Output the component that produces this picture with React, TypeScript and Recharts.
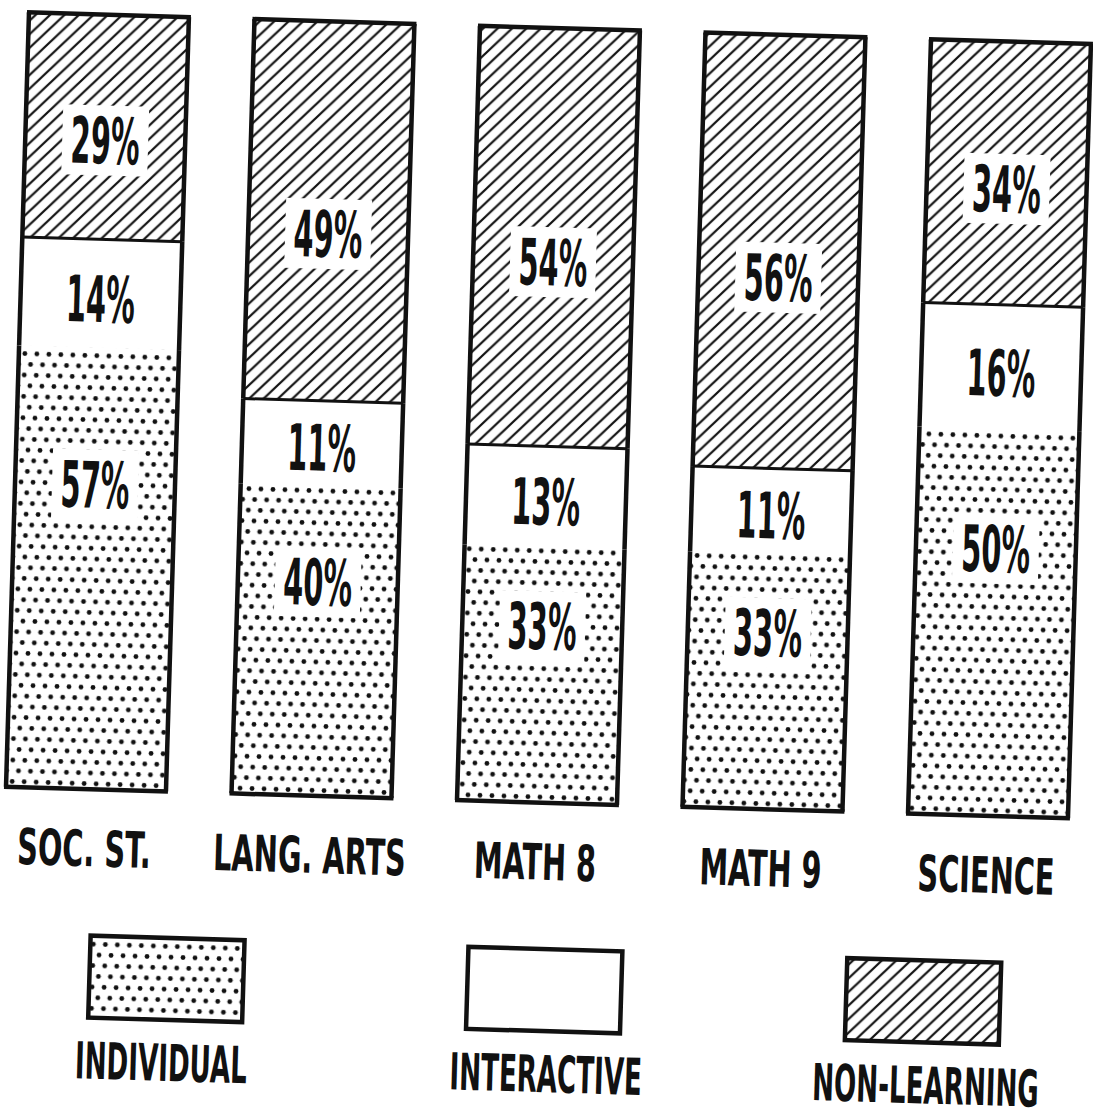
import React from "react";
import { Bar, BarChart, LabelList, Legend, XAxis, YAxis } from "recharts";

const categories = ["SOC. ST.", "LANG. ARTS", "MATH 8", "MATH 9", "SCIENCE"];
const individual = [57, 40, 33, 33, 50];
const interactive = [14, 11, 13, 11, 16];
const nonLearning = [29, 49, 54, 56, 34];
const seriesNames = ["INDIVIDUAL", "INTERACTIVE", "NON-LEARNING"];

const data = categories.map((name, i) => ({
  name,
  individual: individual[i],
  interactive: interactive[i],
  nonLearning: nonLearning[i],
}));

const FONT = "'DejaVu Sans Condensed', 'Liberation Sans Narrow', 'DejaVu Sans', sans-serif";
const INK = "#111";

// legend item centres (page x), swatch / text
const SWATCH_X = [179, 557, 936];
const LABEL_X = [176, 561, 941];

const Patterns = () => (
  <svg width={0} height={0} style={{ position: "absolute" }}>
    <defs>
      <pattern id="dots" width={12} height={21.4} patternUnits="userSpaceOnUse">
        <rect width={12} height={21.4} fill="#fff" />
        <circle cx={3} cy={5.3} r={2.4} fill={INK} />
        <circle cx={9} cy={16} r={2.4} fill={INK} />
      </pattern>
      <pattern id="hatch" width={14} height={14} patternUnits="userSpaceOnUse">
        <rect width={14} height={14} fill="#fff" />
        <path d="M-2,2 L2,-2 M0,14 L14,0 M12,16 L16,12" stroke={INK} strokeWidth={2.2} />
      </pattern>
    </defs>
  </svg>
);

const makeShape = (kind: "bottom" | "middle" | "top") => (props: any) => {
  const { x, y, width, height, fill } = props;
  const r = x + width;
  const b = y + height;
  return (
    <g>
      <rect x={x} y={y} width={width} height={height} fill={fill} />
      <line x1={x} y1={y} x2={x} y2={b} stroke={INK} strokeWidth={4.5} />
      <line x1={r} y1={y} x2={r} y2={b} stroke={INK} strokeWidth={4.5} />
      {kind === "bottom" && (
        <line x1={x - 2} y1={b} x2={r + 2} y2={b} stroke={INK} strokeWidth={4.5} />
      )}
      {kind === "top" && (
        <>
          <line x1={x - 2} y1={y} x2={r + 2} y2={y} stroke={INK} strokeWidth={4.5} />
          <line x1={x} y1={b} x2={r} y2={b} stroke={INK} strokeWidth={3} />
        </>
      )}
    </g>
  );
};

const makeLabel = (pos: number, knockout: boolean) => (props: any) => {
  const vb = props.viewBox ?? props;
  const { x, y, width, height } = vb;
  const cx = x + width / 2;
  const cy = y + height * pos;
  return (
    <g>
      {knockout && <rect x={cx - 43} y={cy - 35} width={86} height={70} fill="#fff" />}
      <text
        transform={`translate(${cx},${cy + 23}) scale(0.5,1)`}
        textAnchor="middle"
        fontSize={64}
        fontWeight={700}
        fontFamily={FONT}
        fill={INK}
      >
        {`${props.value}%`}
      </text>
    </g>
  );
};

const CategoryTick = (props: any) => {
  const { x, y, payload } = props;
  return (
    <text
      transform={`translate(${x},${y + 77}) scale(0.64,1)`}
      textAnchor="middle"
      fontSize={50}
      fontWeight={700}
      fontFamily={FONT}
      fill={INK}
    >
      {payload.value}
    </text>
  );
};

const LegendContent = (props: any) => {
  const items = props.payload || [];
  return (
    <svg width={1093} height={188} style={{ display: "block" }}>
      {items.map((item: any, i: number) => (
        <g key={item.value}>
          <rect
            x={SWATCH_X[i] - 77}
            y={29}
            width={154}
            height={82}
            fill={item.color}
            stroke={INK}
            strokeWidth={4.5}
          />
          <text
            transform={`translate(${LABEL_X[i]},172) scale(0.57,1)`}
            textAnchor="middle"
            fontSize={51}
            fontWeight={700}
            fontFamily={FONT}
            fill={INK}
          >
            {item.value}
          </text>
        </g>
      ))}
    </svg>
  );
};

export default function App() {
  return (
    <div
      style={{
        position: "fixed",
        left: 0,
        top: 0,
        width: 1093,
        height: 1118,
        overflow: "hidden",
        background: "#fff",
      }}
    >
      <Patterns />
      <div
        style={{
          position: "absolute",
          left: 0,
          top: 0,
          width: 1093,
          height: 1118,
          transform: "rotate(1.7deg)",
          transformOrigin: "546px 559px",
        }}
      >
        <div style={{ position: "absolute", left: -20, top: 0 }}>
          <BarChart
            width={1128}
            height={1118}
            data={data}
            barSize={160}
            margin={{ top: 28, right: 0, left: 0, bottom: 5 }}
          >
            <XAxis
              dataKey="name"
              height={90}
              interval={0}
              axisLine={false}
              tickLine={false}
              tickSize={0}
              tickMargin={0}
              tick={<CategoryTick />}
            />
            <YAxis hide domain={[0, 100]} />
            <Legend
              verticalAlign="bottom"
              content={<LegendContent />}
              wrapperStyle={{ position: "absolute", left: 20, top: 920, width: 1093, height: 188 }}
            />
            <Bar
              dataKey="individual"
              name={seriesNames[0]}
              stackId="a"
              fill="url(#dots)"
              shape={makeShape("bottom")}
              isAnimationActive={false}
            >
              <LabelList dataKey="individual" content={makeLabel(0.31, true)} />
            </Bar>
            <Bar
              dataKey="interactive"
              name={seriesNames[1]}
              stackId="a"
              fill="#fff"
              shape={makeShape("middle")}
              isAnimationActive={false}
            >
              <LabelList dataKey="interactive" content={makeLabel(0.55, false)} />
            </Bar>
            <Bar
              dataKey="nonLearning"
              name={seriesNames[2]}
              stackId="a"
              fill="url(#hatch)"
              shape={makeShape("top")}
              isAnimationActive={false}
            >
              <LabelList dataKey="nonLearning" content={makeLabel(0.56, true)} />
            </Bar>
          </BarChart>
        </div>
      </div>
    </div>
  );
}
